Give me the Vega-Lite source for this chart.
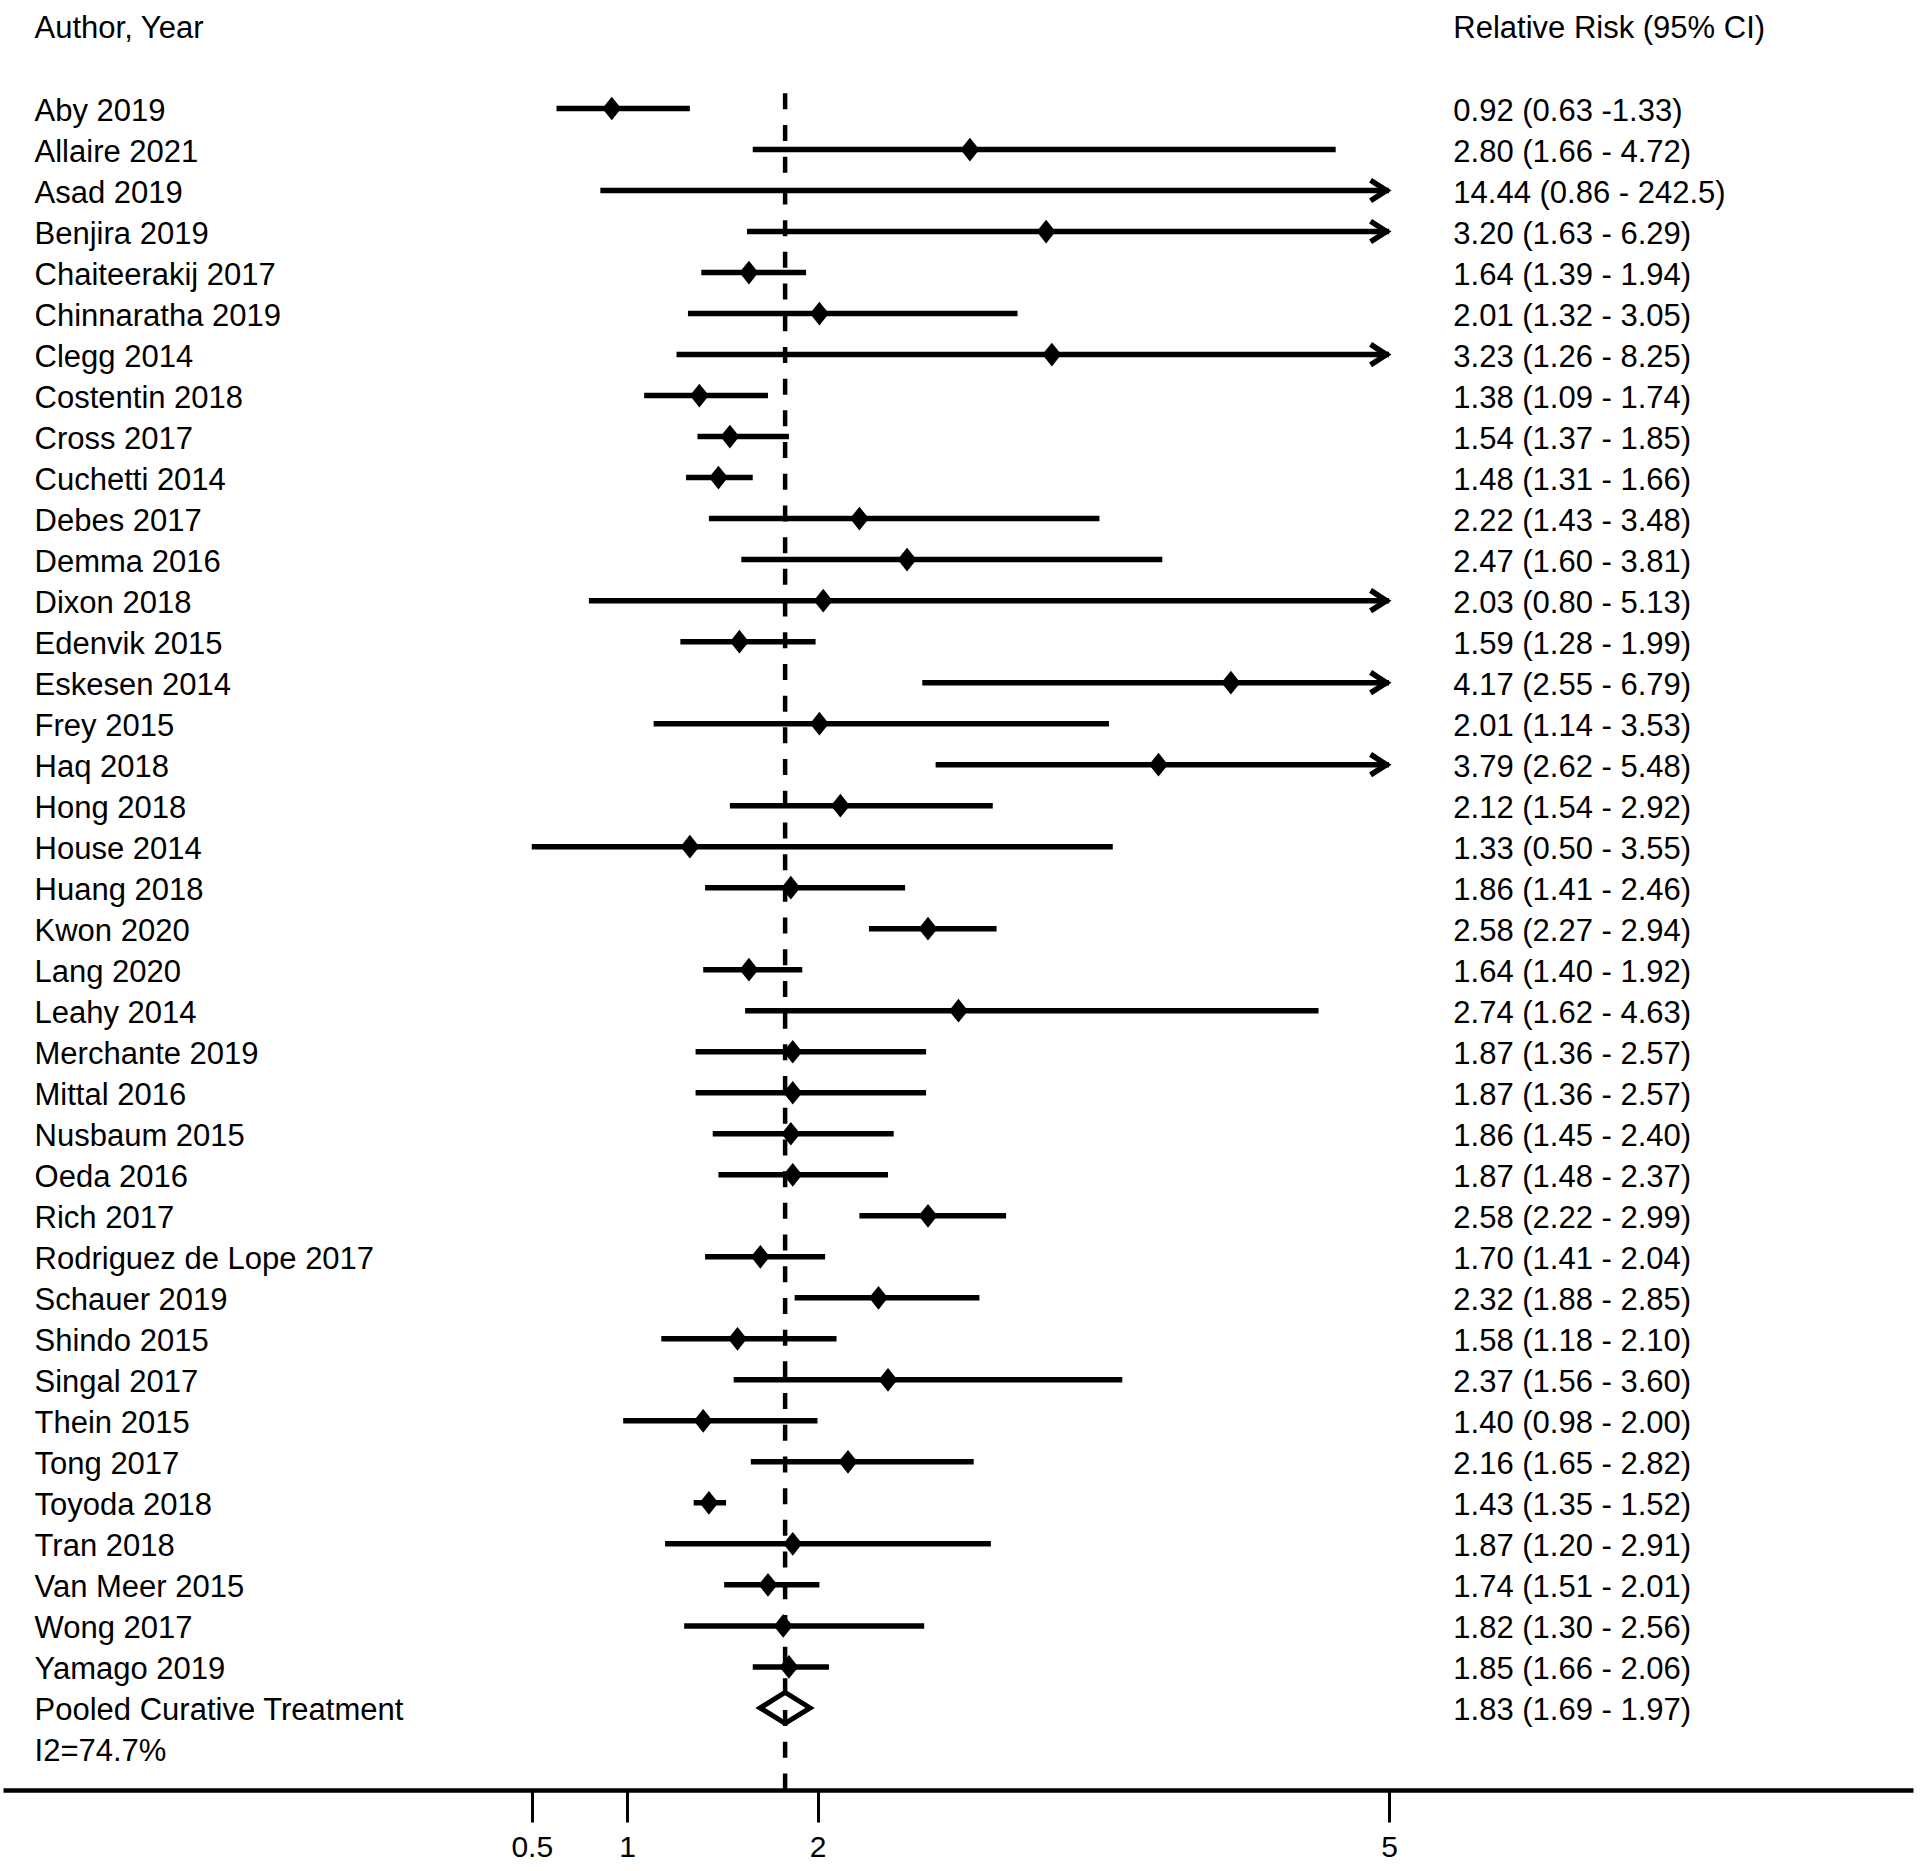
{
  "$schema": "https://vega.github.io/schema/vega-lite/v6.json",
  "width": 1910,
  "height": 1790,
  "autosize": {"type": "none"},
  "padding": {"left": 3, "right": 7, "top": 0, "bottom": 81},
  "background": "white",
  "config": {
    "view": {"stroke": null},
    "text": {"font": "Liberation Sans", "fontSize": 31, "color": "black"},
    "axisX": {
      "grid": false,
      "domainColor": "black", "domainWidth": 4.5,
      "tickColor": "black", "tickWidth": 3, "tickSize": 32,
      "labelFont": "Liberation Sans", "labelFontSize": 30, "labelColor": "black",
      "labelPadding": 10, "labelFlush": false, "labelOverlap": false
    }
  },
  "data": {
    "values": [
      {"type": "header", "row": -2, "study": "Author, Year", "label": "Relative Risk (95% CI)"},
      {"type": "study", "row": 0, "study": "Aby 2019", "rr": 0.92, "lower": 0.63, "upper": 1.33, "label": "0.92 (0.63 -1.33)"},
      {"type": "study", "row": 1, "study": "Allaire 2021", "rr": 2.80, "lower": 1.66, "upper": 4.72, "label": "2.80 (1.66 - 4.72)"},
      {"type": "study", "row": 2, "study": "Asad 2019", "rr": 14.44, "lower": 0.86, "upper": 242.5, "label": "14.44 (0.86 - 242.5)"},
      {"type": "study", "row": 3, "study": "Benjira 2019", "rr": 3.20, "lower": 1.63, "upper": 6.29, "label": "3.20 (1.63 - 6.29)"},
      {"type": "study", "row": 4, "study": "Chaiteerakij 2017", "rr": 1.64, "lower": 1.39, "upper": 1.94, "label": "1.64 (1.39 - 1.94)"},
      {"type": "study", "row": 5, "study": "Chinnaratha 2019", "rr": 2.01, "lower": 1.32, "upper": 3.05, "label": "2.01 (1.32 - 3.05)"},
      {"type": "study", "row": 6, "study": "Clegg 2014", "rr": 3.23, "lower": 1.26, "upper": 8.25, "label": "3.23 (1.26 - 8.25)"},
      {"type": "study", "row": 7, "study": "Costentin 2018", "rr": 1.38, "lower": 1.09, "upper": 1.74, "label": "1.38 (1.09 - 1.74)"},
      {"type": "study", "row": 8, "study": "Cross 2017", "rr": 1.54, "lower": 1.37, "upper": 1.85, "label": "1.54 (1.37 - 1.85)"},
      {"type": "study", "row": 9, "study": "Cuchetti 2014", "rr": 1.48, "lower": 1.31, "upper": 1.66, "label": "1.48 (1.31 - 1.66)"},
      {"type": "study", "row": 10, "study": "Debes 2017", "rr": 2.22, "lower": 1.43, "upper": 3.48, "label": "2.22 (1.43 - 3.48)"},
      {"type": "study", "row": 11, "study": "Demma 2016", "rr": 2.47, "lower": 1.60, "upper": 3.81, "label": "2.47 (1.60 - 3.81)"},
      {"type": "study", "row": 12, "study": "Dixon 2018", "rr": 2.03, "lower": 0.80, "upper": 5.13, "label": "2.03 (0.80 - 5.13)"},
      {"type": "study", "row": 13, "study": "Edenvik 2015", "rr": 1.59, "lower": 1.28, "upper": 1.99, "label": "1.59 (1.28 - 1.99)"},
      {"type": "study", "row": 14, "study": "Eskesen 2014", "rr": 4.17, "lower": 2.55, "upper": 6.79, "label": "4.17 (2.55 - 6.79)"},
      {"type": "study", "row": 15, "study": "Frey 2015", "rr": 2.01, "lower": 1.14, "upper": 3.53, "label": "2.01 (1.14 - 3.53)"},
      {"type": "study", "row": 16, "study": "Haq 2018", "rr": 3.79, "lower": 2.62, "upper": 5.48, "label": "3.79 (2.62 - 5.48)"},
      {"type": "study", "row": 17, "study": "Hong 2018", "rr": 2.12, "lower": 1.54, "upper": 2.92, "label": "2.12 (1.54 - 2.92)"},
      {"type": "study", "row": 18, "study": "House 2014", "rr": 1.33, "lower": 0.50, "upper": 3.55, "label": "1.33 (0.50 - 3.55)"},
      {"type": "study", "row": 19, "study": "Huang 2018", "rr": 1.86, "lower": 1.41, "upper": 2.46, "label": "1.86 (1.41 - 2.46)"},
      {"type": "study", "row": 20, "study": "Kwon 2020", "rr": 2.58, "lower": 2.27, "upper": 2.94, "label": "2.58 (2.27 - 2.94)"},
      {"type": "study", "row": 21, "study": "Lang 2020", "rr": 1.64, "lower": 1.40, "upper": 1.92, "label": "1.64 (1.40 - 1.92)"},
      {"type": "study", "row": 22, "study": "Leahy 2014", "rr": 2.74, "lower": 1.62, "upper": 4.63, "label": "2.74 (1.62 - 4.63)"},
      {"type": "study", "row": 23, "study": "Merchante 2019", "rr": 1.87, "lower": 1.36, "upper": 2.57, "label": "1.87 (1.36 - 2.57)"},
      {"type": "study", "row": 24, "study": "Mittal 2016", "rr": 1.87, "lower": 1.36, "upper": 2.57, "label": "1.87 (1.36 - 2.57)"},
      {"type": "study", "row": 25, "study": "Nusbaum 2015", "rr": 1.86, "lower": 1.45, "upper": 2.40, "label": "1.86 (1.45 - 2.40)"},
      {"type": "study", "row": 26, "study": "Oeda 2016", "rr": 1.87, "lower": 1.48, "upper": 2.37, "label": "1.87 (1.48 - 2.37)"},
      {"type": "study", "row": 27, "study": "Rich 2017", "rr": 2.58, "lower": 2.22, "upper": 2.99, "label": "2.58 (2.22 - 2.99)"},
      {"type": "study", "row": 28, "study": "Rodriguez de Lope 2017", "rr": 1.70, "lower": 1.41, "upper": 2.04, "label": "1.70 (1.41 - 2.04)"},
      {"type": "study", "row": 29, "study": "Schauer 2019", "rr": 2.32, "lower": 1.88, "upper": 2.85, "label": "2.32 (1.88 - 2.85)"},
      {"type": "study", "row": 30, "study": "Shindo 2015", "rr": 1.58, "lower": 1.18, "upper": 2.10, "label": "1.58 (1.18 - 2.10)"},
      {"type": "study", "row": 31, "study": "Singal 2017", "rr": 2.37, "lower": 1.56, "upper": 3.60, "label": "2.37 (1.56 - 3.60)"},
      {"type": "study", "row": 32, "study": "Thein 2015", "rr": 1.40, "lower": 0.98, "upper": 2.00, "label": "1.40 (0.98 - 2.00)"},
      {"type": "study", "row": 33, "study": "Tong 2017", "rr": 2.16, "lower": 1.65, "upper": 2.82, "label": "2.16 (1.65 - 2.82)"},
      {"type": "study", "row": 34, "study": "Toyoda 2018", "rr": 1.43, "lower": 1.35, "upper": 1.52, "label": "1.43 (1.35 - 1.52)"},
      {"type": "study", "row": 35, "study": "Tran 2018", "rr": 1.87, "lower": 1.20, "upper": 2.91, "label": "1.87 (1.20 - 2.91)"},
      {"type": "study", "row": 36, "study": "Van Meer 2015", "rr": 1.74, "lower": 1.51, "upper": 2.01, "label": "1.74 (1.51 - 2.01)"},
      {"type": "study", "row": 37, "study": "Wong 2017", "rr": 1.82, "lower": 1.30, "upper": 2.56, "label": "1.82 (1.30 - 2.56)"},
      {"type": "study", "row": 38, "study": "Yamago 2019", "rr": 1.85, "lower": 1.66, "upper": 2.06, "label": "1.85 (1.66 - 2.06)"},
      {"type": "pooled", "row": 39, "study": "Pooled Curative Treatment", "rr": 1.83, "lower": 1.69, "upper": 1.97, "label": "1.83 (1.69 - 1.97)"},
      {"type": "note", "row": 40, "study": "I2=74.7%", "label": ""}
    ]
  },
  "layer": [
    {
      "transform": [{"filter": "datum.type == 'pooled'"}],
      "mark": {"type": "rule", "color": "black", "strokeWidth": 4.5, "strokeDash": [16, 15.7]},
      "encoding": {
        "x": {
          "field": "rr", "type": "quantitative",
          "scale": {"domain": [-2.2756, 7.7506], "nice": false, "zero": false},
          "axis": {"values": [0.5, 1, 2, 5], "format": "~g", "title": null}
        },
        "y": {"datum": -0.37, "type": "quantitative", "scale": {"domain": [-2.646, 41.002], "reverse": true, "nice": false, "zero": false}, "axis": null},
        "y2": {"datum": 41.0}
      }
    },
    {
      "transform": [{"filter": "datum.type == 'study' && datum.upper <= 5"}],
      "mark": {"type": "rule", "color": "black", "strokeWidth": 5.5},
      "encoding": {
        "x": {"field": "lower", "type": "quantitative", "axis": {"values": [0.5, 1, 2, 5], "format": "~g", "title": null}},
        "x2": {"field": "upper"},
        "y": {"field": "row", "type": "quantitative", "axis": null}
      }
    },
    {
      "transform": [{"filter": "datum.type == 'study' && datum.upper > 5"}],
      "mark": {"type": "rule", "color": "black", "strokeWidth": 5.5},
      "encoding": {
        "x": {"field": "lower", "type": "quantitative", "axis": {"values": [0.5, 1, 2, 5], "format": "~g", "title": null}},
        "x2": {"datum": 5},
        "y": {"field": "row", "type": "quantitative", "axis": null}
      }
    },
    {
      "transform": [{"filter": "datum.type == 'study' && datum.upper > 5"}],
      "mark": {"type": "point", "shape": "M-1.8,-1L-0.25,0L-1.8,1", "size": 420, "filled": false, "stroke": "black", "strokeWidth": 5.5, "strokeJoin": "miter", "opacity": 1},
      "encoding": {
        "x": {"datum": 5, "type": "quantitative", "axis": {"values": [0.5, 1, 2, 5], "format": "~g", "title": null}},
        "y": {"field": "row", "type": "quantitative", "axis": null}
      }
    },
    {
      "transform": [{"filter": "datum.type == 'study' && datum.rr <= 5"}],
      "mark": {"type": "point", "shape": "M0,-1.25L1,0L0,1.25L-1,0Z", "size": 360, "filled": true, "fill": "black", "strokeWidth": 0, "opacity": 1},
      "encoding": {
        "x": {"field": "rr", "type": "quantitative", "axis": {"values": [0.5, 1, 2, 5], "format": "~g", "title": null}},
        "y": {"field": "row", "type": "quantitative", "axis": null}
      }
    },
    {
      "transform": [{"filter": "datum.type == 'pooled'"}],
      "mark": {"type": "point", "shape": "M-1,0L0,-0.62L1,0L0,0.62Z", "size": 2500, "filled": false, "fill": null, "stroke": "black", "strokeWidth": 5, "strokeJoin": "miter", "opacity": 1},
      "encoding": {
        "x": {"field": "rr", "type": "quantitative", "axis": {"values": [0.5, 1, 2, 5], "format": "~g", "title": null}},
        "y": {"field": "row", "type": "quantitative", "axis": null}
      }
    },
    {
      "mark": {"type": "text", "align": "left", "baseline": "alphabetic", "dy": 12},
      "encoding": {
        "x": {"datum": -2.11, "type": "quantitative", "axis": {"values": [0.5, 1, 2, 5], "format": "~g", "title": null}},
        "y": {"field": "row", "type": "quantitative", "axis": null},
        "text": {"field": "study"}
      }
    },
    {
      "mark": {"type": "text", "align": "left", "baseline": "alphabetic", "dy": 12},
      "encoding": {
        "x": {"datum": 5.3375, "type": "quantitative", "axis": {"values": [0.5, 1, 2, 5], "format": "~g", "title": null}},
        "y": {"field": "row", "type": "quantitative", "axis": null},
        "text": {"field": "label"}
      }
    }
  ]
}
